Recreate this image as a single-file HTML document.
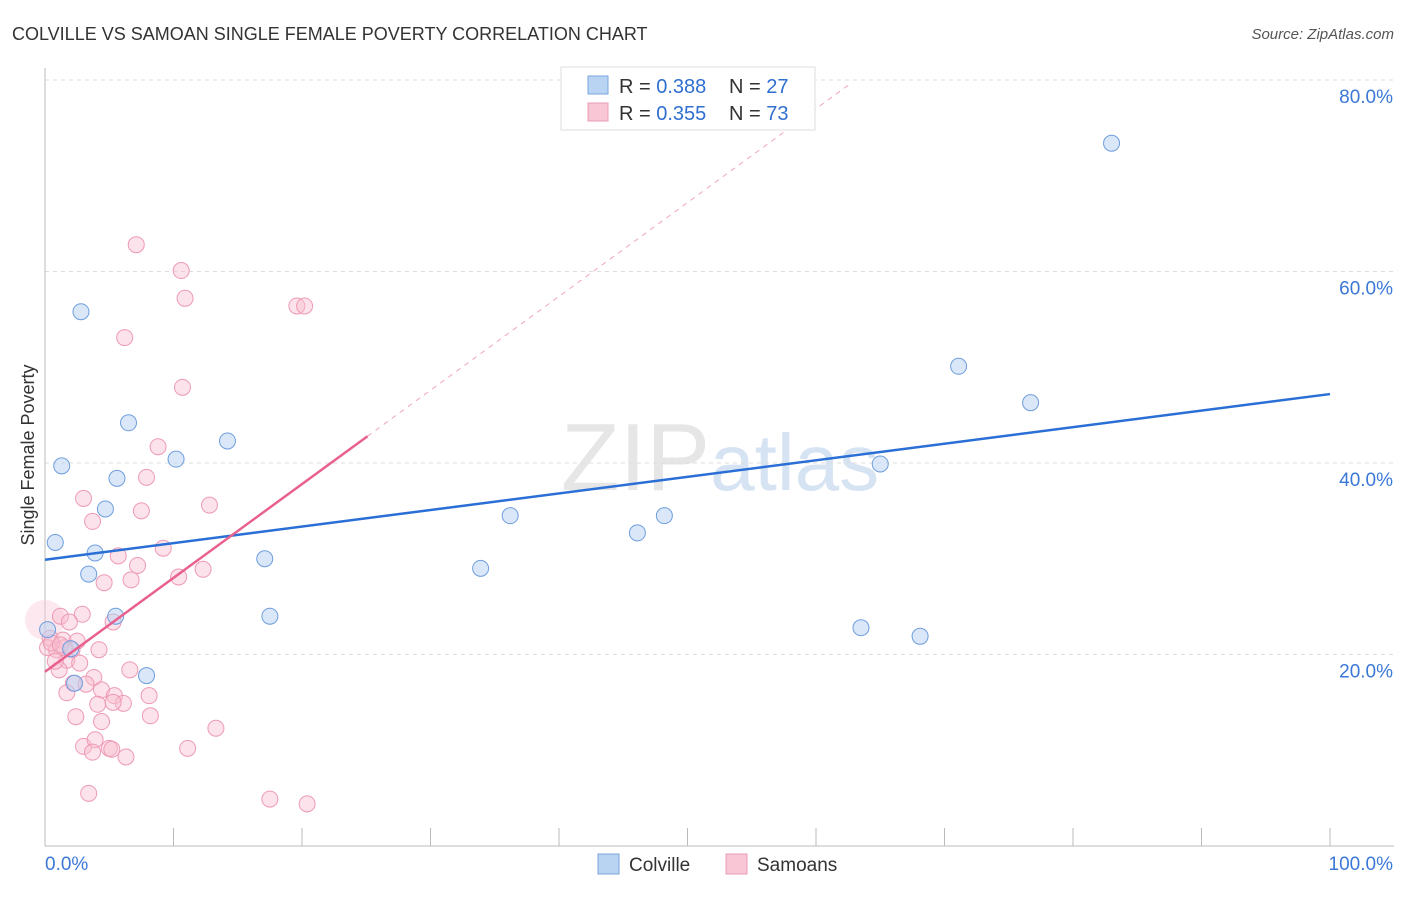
<!DOCTYPE html>
<html><head><meta charset="utf-8"><style>
body{margin:0;background:#fff;font-family:"Liberation Sans",sans-serif;}
svg text{font-family:"Liberation Sans",sans-serif;}
</style></head><body>
<svg id="chart" width="1406" height="892">
<text x="12" y="40" font-size="18" fill="#333">COLVILLE VS SAMOAN SINGLE FEMALE POVERTY CORRELATION CHART</text>
<text x="1394" y="39" font-size="15" fill="#555" font-style="italic" text-anchor="end">Source: ZipAtlas.com</text>
<text x="720" y="490" font-size="96" fill="#e6e6e6" text-anchor="middle" font-family="Liberation Serif">ZIP<tspan fill="#d6e3f3" font-family="Liberation Sans" font-size="80">atlas</tspan></text>
<g id="grid"></g><g id="axes"></g><g id="marks"></g>
<text transform="translate(34,455) rotate(-90)" font-size="18" fill="#333" text-anchor="middle">Single Female Poverty</text>
<g>
<rect x="561" y="67" width="254" height="63" fill="#fff" stroke="#ddd"/>
<rect x="588" y="76" width="20" height="18" fill="#b9d3f3" stroke="#7aa6df"/>
<rect x="588" y="103" width="20" height="18" fill="#f8c6d5" stroke="#ec9bb4"/>
<text x="619" y="93" font-size="20" fill="#333">R = <tspan fill="#2f6fd0">0.388</tspan></text>
<text x="729" y="93" font-size="20" fill="#333">N = <tspan fill="#2f6fd0">27</tspan></text>
<text x="619" y="120" font-size="20" fill="#333">R = <tspan fill="#2f6fd0">0.355</tspan></text>
<text x="729" y="120" font-size="20" fill="#333">N = <tspan fill="#2f6fd0">73</tspan></text>
</g>
<g>
<rect x="598" y="854" width="21" height="20" fill="#b9d3f3" stroke="#7aa6df"/>
<text x="629" y="871" font-size="19" fill="#333">Colville</text>
<rect x="726" y="854" width="21" height="20" fill="#f8c6d5" stroke="#ec9bb4"/>
<text x="757" y="871" font-size="19" fill="#333">Samoans</text>
</g>
</svg>
<script>
const blueX=[2.8,1.3,0.8,6.5,5.6,4.7,3.9,3.4,5.5,2.3,7.9,10.2,14.2,17.1,17.5,33.9,36.2,46.1,48.2,63.5,68.1,65.0,71.1,76.7,83.0,0.2,2.0];
const blueY=[55.8,39.7,31.7,44.2,38.4,35.2,30.6,28.4,24.0,17.0,17.8,40.4,42.3,30.0,24.0,29.0,34.5,32.7,34.5,22.8,21.9,39.9,50.1,46.3,73.4,22.6,20.6];
const pinkX=[7.1,10.6,10.9,6.2,19.6,20.2,10.7,8.8,7.9,3.0,12.8,3.7,7.5,9.2,5.7,7.2,10.4,12.3,4.6,6.7,2.9,1.2,1.9,5.3,0.4,1.4,2.5,0.2,0.9,2.1,4.2,1.7,2.7,1.1,6.6,3.8,2.2,3.2,4.4,5.4,8.1,1.7,4.1,6.1,5.3,2.4,8.2,4.4,13.3,3.0,3.9,3.7,5.0,5.2,6.3,11.1,3.4,17.5,20.4,0.8,1.5,0.5,1.2];
const pinkY=[62.8,60.1,57.2,53.1,56.4,56.4,47.9,41.7,38.5,36.3,35.6,33.9,35.0,31.1,30.3,29.3,28.1,28.9,27.5,27.8,24.2,24.0,23.4,23.4,21.7,21.5,21.4,20.7,20.5,20.5,20.5,19.4,19.1,18.4,18.4,17.6,17.0,16.9,16.3,15.7,15.7,16.0,14.8,14.9,15.0,13.5,13.6,13.0,12.3,10.4,11.1,9.8,10.2,10.1,9.3,10.2,5.5,4.9,4.4,19.3,20.7,21.2,21.0];
const yTicks=[20,40,60,80];
const yTickLabels=["20.0%","40.0%","60.0%","80.0%"];
const xTicks=[0,10,20,30,40,50,60,70,80,90,100];
const blueLine=[29.9,47.2];
const pinkLine=[18.2,0.98];
const NS="http://www.w3.org/2000/svg";
const sx=v=>45+v*12.85, sy=v=>846-v*9.575;
function mk(tag,attrs,parent){const e=document.createElementNS(NS,tag);for(const k in attrs)e.setAttribute(k,attrs[k]);document.getElementById(parent).appendChild(e);return e;}
yTicks.forEach((t,i)=>{
 const g=mk('line',{x1:45,x2:1394,y1:sy(t),y2:sy(t),stroke:'#ddd','stroke-dasharray':'4,4'},'grid');
 
 
 const l=mk('text',{x:1393,y:sy(t)+23,'font-size':19,fill:'#3b78d8','text-anchor':'end'},'axes');l.textContent=yTickLabels[i];
 
 
});
const topGrid=mk('line',{x1:45,x2:1394,y1:80,y2:80,stroke:'#ddd','stroke-dasharray':'4,4'},'grid');


const ya=mk('line',{x1:45,x2:45,y1:68,y2:846,stroke:'#bbb'},'axes');


const xa=mk('line',{x1:45,x2:1394,y1:846,y2:846,stroke:'#bbb'},'axes');


xTicks.forEach(t=>{const tk=mk('line',{x1:sx(t),x2:sx(t),y1:828,y2:846,stroke:'#bbb'},'axes');
 
 });
let t0=mk('text',{x:45,y:870,'font-size':19,fill:'#3b78d8'},'axes');t0.textContent='0.0%';


let t1=mk('text',{x:1393,y:870,'font-size':19,fill:'#3b78d8','text-anchor':'end'},'axes');t1.textContent='100.0%';


const big=mk('circle',{cx:45,cy:sy(23.6),r:20,fill:'rgba(248,198,213,0.4)',stroke:'none'},'marks');


pinkX.forEach((x,i)=>{const c=mk('circle',{cx:sx(x),cy:sy(pinkY[i]),r:8,fill:'rgba(248,190,208,0.45)',stroke:'#ee9ab5','stroke-width':1},'marks');
 
 });
blueX.forEach((x,i)=>{const c=mk('circle',{cx:sx(x),cy:sy(blueY[i]),r:8,fill:'rgba(185,211,243,0.55)',stroke:'#6f9ede','stroke-width':1},'marks');
 
 });
const bl=mk('line',{x1:sx(0),y1:sy(blueLine[0]),x2:sx(100),y2:sy(blueLine[1]),stroke:'#2a6fd6','stroke-width':2.5},'marks');


const pd=mk('line',{x1:sx(25.1),y1:sy(pinkLine[0]+pinkLine[1]*25.1),x2:sx(62.6),y2:sy(pinkLine[0]+pinkLine[1]*62.6),stroke:'#f0a5be','stroke-width':1,'stroke-dasharray':'5,5'},'marks');


const pl=mk('line',{x1:sx(0),y1:sy(pinkLine[0]),x2:sx(25.1),y2:sy(pinkLine[0]+pinkLine[1]*25.1),stroke:'#e8608e','stroke-width':2.5},'marks');


</script>
</body></html>
